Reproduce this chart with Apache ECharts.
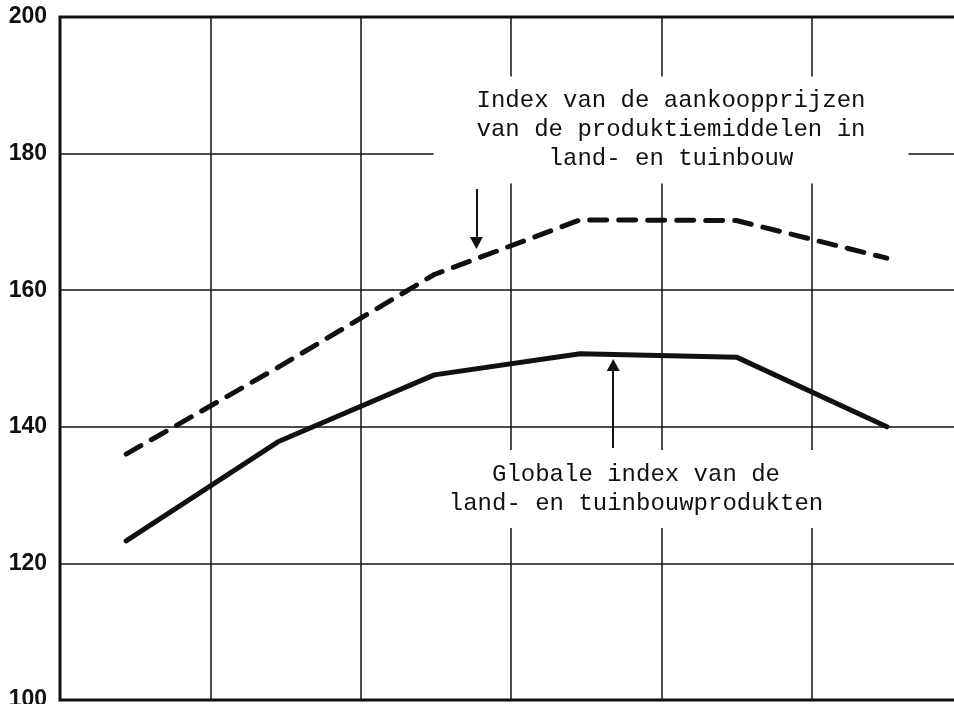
<!DOCTYPE html>
<html>
<head>
<meta charset="utf-8">
<script src="https://cdn.jsdelivr.net/npm/echarts@6/dist/echarts.min.js"></script>
<style>
  html, body { margin: 0; padding: 0; background: #fff; }
  #chart { width: 954px; height: 704px; }
</style>
</head>
<body>
<div id="chart"></div>
<script>
// positions along the x axis (one column = 1 unit, the axis has no labels)
const xPos = [0.44, 1.45, 2.49, 3.46, 4.5, 5.5]
// Globale index van de land- en tuinbouwprodukten
const productIndex = [123.3, 137.8, 147.6, 150.7, 150.2, 140.0]
// Index van de aankoopprijzen van de produktiemiddelen
const inputIndex = [136.0, 148.7, 162.3, 170.3, 170.2, 164.7]
const yTicks = [100, 120, 140, 160, 180, 200]

// annotation texts and where their arrows point (data coords)
const topNote = 'Index van de aankoopprijzen\nvan de produktiemiddelen in\nland- en tuinbouw'
const bottomNote = 'Globale index van de\nland- en tuinbouwprodukten'
const topArrow = [[2.77, 174.8], [2.77, 166.9]]
const bottomArrow = [[3.68, 136.9], [3.68, 149.05]]

const ink = '#111'
const mono = '"Liberation Mono", "DejaVu Sans Mono", monospace'

function pairs(xs, ys) {
  return xs.map((x, i) => [x, ys[i]])
}

const chart = echarts.init(document.getElementById('chart'))

const options = {
  backgroundColor: '#fff',
  animation: false,
  grid: {
    left: 60,
    top: 17,
    width: 902, // last column runs past the right edge of the page
    height: 683,
    outerBoundsMode: 'none',
    show: true,
    borderColor: ink,
    borderWidth: 3
  },
  xAxis: {
    type: 'value',
    min: 0,
    max: 6,
    interval: 1,
    axisLine: { show: false },
    axisTick: { show: false },
    axisLabel: { show: false },
    splitLine: { show: true, lineStyle: { color: ink, width: 1.5 } }
  },
  yAxis: {
    type: 'value',
    min: yTicks[0],
    max: yTicks[yTicks.length - 1],
    interval: 20,
    axisLine: { show: false },
    axisTick: { show: false },
    axisLabel: {
      color: ink,
      fontSize: 23,
      fontWeight: 'bold',
      fontFamily: '"Liberation Sans Narrow", "Liberation Sans", sans-serif',
      margin: 13
    },
    splitLine: { show: true, lineStyle: { color: ink, width: 1.5 } }
  },
  series: [
    {
      name: 'produktiemiddelen',
      type: 'line',
      data: pairs(xPos, inputIndex),
      showSymbol: false,
      lineStyle: { color: ink, width: 5, type: [17, 12], cap: 'round', join: 'round' }
    },
    {
      name: 'produkten',
      type: 'line',
      data: pairs(xPos, productIndex),
      showSymbol: false,
      lineStyle: { color: ink, width: 5, cap: 'round', join: 'round' },
      markLine: {
        silent: true,
        symbol: ['none', 'triangle'],
        symbolSize: [13, 12],
        label: { show: false },
        lineStyle: { color: ink, width: 2, type: 'solid' },
        data: [
          [{ coord: topArrow[0] }, { coord: topArrow[1] }],
          [{ coord: bottomArrow[0] }, { coord: bottomArrow[1] }]
        ]
      }
    }
  ],
  graphic: [
    {
      type: 'text',
      x: 671,
      y: 130,
      z: 100,
      style: {
        text: topNote,
        font: '24px ' + mono,
        fill: ink,
        align: 'center',
        verticalAlign: 'middle',
        lineHeight: 29,
        backgroundColor: '#fff',
        padding: [10, 43]
      }
    },
    {
      type: 'text',
      x: 636,
      y: 489,
      z: 100,
      style: {
        text: bottomNote,
        font: '24px ' + mono,
        fill: ink,
        align: 'center',
        verticalAlign: 'middle',
        lineHeight: 29,
        backgroundColor: '#fff',
        padding: [10, 10]
      }
    }
  ]
}

chart.setOption(options)
window.addEventListener('resize', () => {
  chart.resize()
})
</script>
</body>
</html>
